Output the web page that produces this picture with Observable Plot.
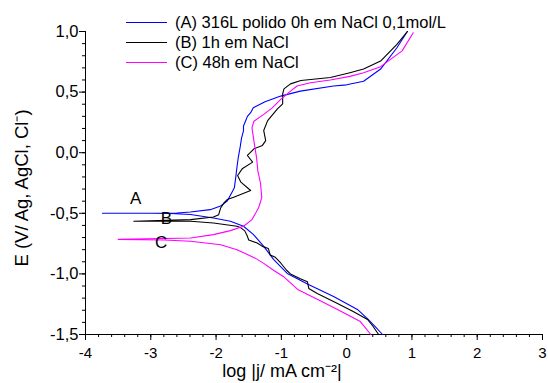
<!DOCTYPE html>
<html>
<head>
<meta charset="utf-8">
<script src="https://cdn.jsdelivr.net/npm/d3@7"></script>
<script src="https://cdn.jsdelivr.net/npm/@observablehq/plot@0.6"></script>
<style>
  html, body { margin: 0; padding: 0; background: #fff; }
  #wrap { position: relative; width: 548px; height: 383px; overflow: hidden; font-family: "Liberation Sans", Arial, sans-serif; }
  #legend { position: absolute; left: 126px; top: 0; }
  .row { position: absolute; left: 0; height: 20px; display: flex; align-items: center; white-space: nowrap; font-size: 16.5px; color: #000; }
  .sw { display: inline-block; width: 41px; height: 0; border-top: 1.2px solid; margin-right: 8px; }
</style>
</head>
<body>
<div id="wrap"><div id="legend"></div></div>
<script>
// ---- data (log|j| in mA cm^-2, E in V vs Ag/AgCl) ----
const seriesNames = ["(A) 316L polido 0h em NaCl 0,1mol/L", "(B) 1h em NaCl", "(C) 48h em NaCl"];
const seriesColors = ["#0000ff", "#000000", "#ff00ff"];

const aLogJ = [0.55, 0.43, 0.33, 0.165, -0.20, -0.585, -0.91, -1.12, -1.27, -1.43, -1.58, -1.78, -2.04, -2.39, -2.7, -3.0, -3.74,
               -3.0, -2.6, -2.39, -2.09, -1.93, -1.83, -1.75, -1.72, -1.70, -1.68, -1.66, -1.63, -1.61, -1.58, -1.58, -1.55, -1.52, -1.47, -1.43, -1.25, -1.01, -0.71, -0.2, 0.0, 0.26, 0.52, 0.77, 0.93];
const aE    = [-1.5, -1.43, -1.376, -1.293, -1.186, -1.087, -0.996, -0.88, -0.773, -0.674, -0.607, -0.566, -0.539, -0.51, -0.502, -0.5, -0.5,
               -0.5, -0.497, -0.489, -0.47, -0.44, -0.40, -0.32, -0.29, -0.21, -0.12, -0.04, 0.05, 0.12, 0.18, 0.22, 0.26, 0.30, 0.33, 0.37, 0.42, 0.467, 0.508, 0.55, 0.56, 0.59, 0.69, 0.866, 1.0];

const bLogJ = [0.49, 0.40, 0.32, 0.10, -0.14, -0.45, -0.58, -0.60, -0.71, -0.86, -0.92, -1.01, -1.10, -1.17, -1.20, -1.29, -1.37, -1.50, -1.52, -1.56, -1.62, -1.68, -2.04, -2.39, -3.26,
               -2.39, -2.04, -1.96, -1.93, -1.88, -1.83, -1.73, -1.47, -1.62, -1.67, -1.60, -1.44, -1.52, -1.42, -1.29, -1.24, -1.27, -1.21, -1.06, -0.98, -0.98, -0.96, -0.86, -0.70, -0.25, 0.05, 0.26, 0.52, 0.77, 0.93];
const bE    = [-1.5, -1.43, -1.376, -1.31, -1.244, -1.161, -1.12, -1.065, -1.04, -1.0, -0.97, -0.91, -0.86, -0.845, -0.79, -0.773, -0.745, -0.72, -0.69, -0.645, -0.62, -0.607, -0.58, -0.566, -0.566,
               -0.552, -0.53, -0.511, -0.456, -0.415, -0.387, -0.367, -0.312, -0.243, -0.188, -0.133, -0.078, -0.023, 0.032, 0.06, 0.10, 0.183, 0.265, 0.362, 0.403, 0.486, 0.527, 0.568, 0.596, 0.62, 0.66, 0.69, 0.756, 0.894, 1.0];

const cLogJ = [0.37, 0.21, -0.14, -0.45, -0.75, -0.97, -1.12, -1.27, -1.40, -1.52, -1.68, -1.93, -2.39, -2.8, -3.5,
               -2.39, -2.04, -1.78, -1.58, -1.45, -1.35, -1.30, -1.32, -1.36, -1.38, -1.42, -1.45, -1.42, -1.27, -1.14, -1.01, -0.86, -0.76, -0.555, -0.25, 0.05, 0.26, 0.52, 0.85, 1.02];
const cE    = [-1.5, -1.393, -1.293, -1.21, -1.128, -1.021, -0.97, -0.913, -0.87, -0.84, -0.80, -0.759, -0.731, -0.72, -0.715,
               -0.704, -0.676, -0.643, -0.607, -0.552, -0.456, -0.37, -0.25, -0.15, -0.04, 0.095, 0.205, 0.26, 0.316, 0.37, 0.44, 0.508, 0.55, 0.577, 0.60, 0.63, 0.66, 0.71, 0.84, 0.99];

const curveTags = ["A", "B", "C"];
const tagLogJ = [-3.23, -2.76, -2.84];
const tagE = [-0.38, -0.545, -0.738];

const xTicks = [-4, -3, -2, -1, 0, 1, 2, 3];
const yTicks = [1.0, 0.5, 0.0, -0.5, -1.0, -1.5];
const xLabel = "log |j/ mA cm\u207B\u00B2|";
const yLabel = "E (V/ Ag, AgCl, Cl\u207B)";

// ---- build table ----
const rows = [];
[[aLogJ, aE], [bLogJ, bE], [cLogJ, cE]].forEach(([xs, ys], i) => {
  xs.forEach((x, k) => rows.push({series: seriesNames[i], x, y: ys[k]}));
});
const tags = curveTags.map((t, i) => ({t, x: tagLogJ[i], y: tagE[i]}));

const minorX = d3.range(-4, 3.0001, 0.2);
const minorY = d3.range(-1.5, 1.0001, 0.1);
const fmtY = d => (d < 0 ? "-" : "") + Math.abs(d).toFixed(1).replace(".", ",");
const fmtX = d => (d < 0 ? "-" : "") + Math.abs(d).toString();

const chart = Plot.plot({
  width: 548,
  height: 383,
  marginLeft: 85,
  marginRight: 6,
  marginTop: 31,
  marginBottom: 49,
  style: {fontFamily: "'Liberation Sans', Arial, sans-serif", color: "#000", background: "transparent", overflow: "visible"},
  x: {domain: [-4, 3]},
  y: {domain: [-1.5, 1.0]},
  color: {domain: seriesNames, range: seriesColors},
  marks: [
    Plot.axisX({ticks: minorX, tickSize: 3, text: null, label: null}),
    Plot.axisX({ticks: xTicks, tickSize: 6, tickPadding: 7, fontSize: 15, tickFormat: fmtX, label: null}),
    Plot.axisY({ticks: minorY, tickSize: 3, text: null, label: null}),
    Plot.axisY({ticks: yTicks, tickSize: 6, tickPadding: 1, fontSize: 16.5, tickFormat: fmtY, label: null}),
    Plot.ruleX([-4], {stroke: "#000"}),
    Plot.ruleY([-1.5], {stroke: "#000"}),
    Plot.line(rows, {x: "x", y: "y", z: "series", stroke: "series", strokeWidth: 1.1, curve: "linear"}),
    Plot.text(tags, {x: "x", y: "y", text: "t", fontSize: 17, fill: "#000", lineAnchor: "middle"}),
    Plot.text([yLabel], {frameAnchor: "left", textAnchor: "middle", rotate: -90, dx: -63, dy: 5, fontSize: 18.5, fill: "#000", lineAnchor: "middle"}),
    Plot.text([xLabel], {frameAnchor: "bottom", textAnchor: "middle", dx: -32, dy: 37, fontSize: 18, fill: "#000", lineAnchor: "middle"})
  ]
});

const wrap = document.getElementById("wrap");
wrap.insertBefore(chart, wrap.firstChild);

// ---- legend ----
const legend = document.getElementById("legend");
const lineY = [22.7, 42.7, 62.5];
seriesNames.forEach((name, i) => {
  const row = document.createElement("div");
  row.className = "row";
  row.style.top = (lineY[i] - 10) + "px";
  const sw = document.createElement("span");
  sw.className = "sw";
  sw.style.borderTopColor = seriesColors[i];
  const tx = document.createElement("span");
  tx.textContent = name;
  row.appendChild(sw);
  row.appendChild(tx);
  legend.appendChild(row);
});
</script>
</body>
</html>
